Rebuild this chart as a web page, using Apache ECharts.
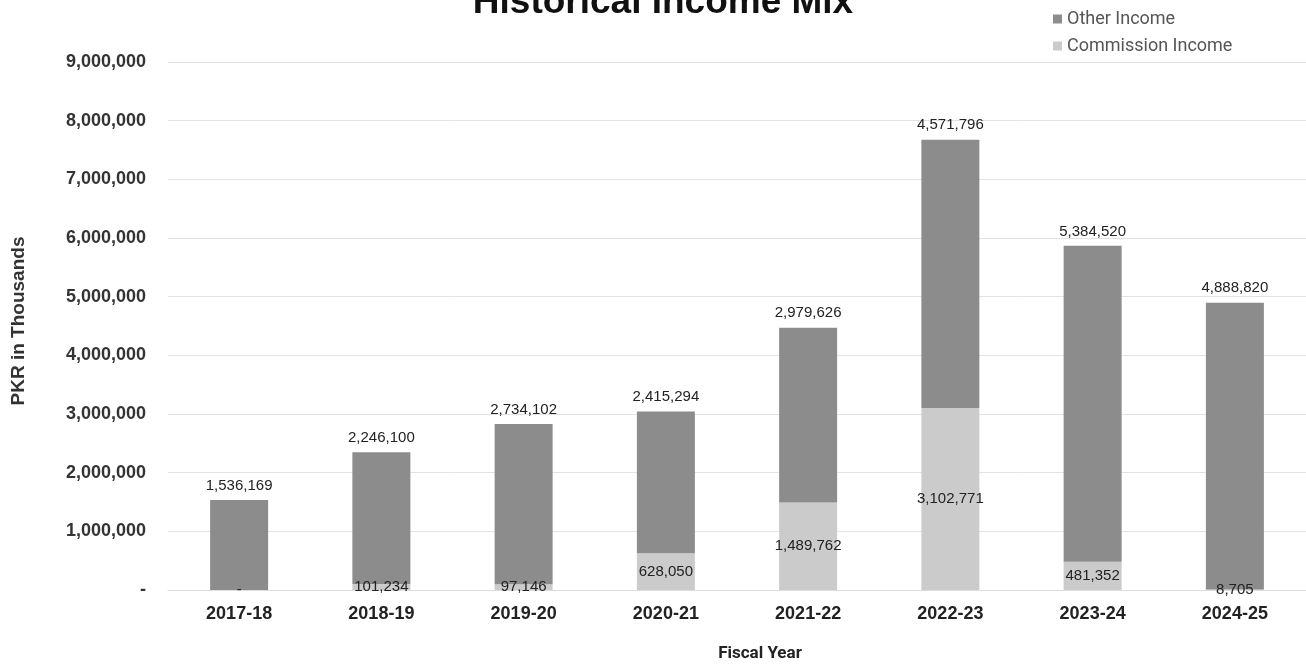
<!DOCTYPE html>
<html>
<head>
<meta charset="utf-8">
<script src="https://cdn.jsdelivr.net/npm/echarts@6/dist/echarts.min.js"></script>
<style>html,body{margin:0;padding:0;background:#fff;}#c{width:1306px;height:667px;}</style>
</head>
<body>
<div id="c"></div>
<script>
const categories = ['2017-18','2018-19','2019-20','2020-21','2021-22','2022-23','2023-24','2024-25'];
const commissionIncome = [0, 101234, 97146, 628050, 1489762, 3102771, 481352, 8705];
const otherIncome = [1536169, 2246100, 2734102, 2415294, 2979626, 4571796, 5384520, 4888820];
const yTicks = [0, 1000000, 2000000, 3000000, 4000000, 5000000, 6000000, 7000000, 8000000, 9000000];

const fmt = v => v === 0 ? '-' : v.toLocaleString('en-US');
const chart = echarts.init(document.getElementById('c'));
chart.setOption({
  backgroundColor: '#fff',
  animation: false,
  title: {
    text: 'Historical Income Mix',
    left: 658, textAlign: 'center', top: -21,
    textStyle: { fontFamily: 'Liberation Sans', fontWeight: 'bold', fontSize: 37, color: '#111' }
  },
  legend: {
    orient: 'vertical', left: 1048, top: 5, itemGap: 9,
    itemWidth: 9, itemHeight: 9, icon: 'rect',
    data: ['Other Income', 'Commission Income'],
    textStyle: { fontFamily: 'Roboto', fontSize: 18, color: '#555' }
  },
  grid: { left: 168, right: 0, top: 62, bottom: 75 },
  xAxis: {
    type: 'category', data: categories,
    name: 'Fiscal Year', nameLocation: 'middle', nameGap: 55,
    nameTextStyle: { fontFamily: 'Roboto', fontWeight: 'bold', fontSize: 17, color: '#222', padding: [0, 0, 0, 46] },
    axisLine: { lineStyle: { color: '#ddd' } },
    axisTick: { show: false },
    axisLabel: { margin: 15, fontFamily: 'Liberation Sans', fontWeight: 'bold', fontSize: 18, color: '#222' }
  },
  yAxis: {
    type: 'value', min: yTicks[0], max: yTicks[yTicks.length - 1], interval: yTicks[1] - yTicks[0],
    name: 'PKR in Thousands', nameLocation: 'middle', nameGap: 140, nameRotate: 90,
    nameTextStyle: { fontFamily: 'Liberation Sans', fontWeight: 'bold', fontSize: 19, color: '#333', padding: [0, 0, 0, 10] },
    axisLine: { show: false }, axisTick: { show: false },
    splitLine: { lineStyle: { color: '#e2e2e2' } },
    axisLabel: { margin: 22, fontFamily: 'Liberation Sans', fontWeight: 'bold', fontSize: 18, color: '#333', formatter: fmt }
  },
  series: [
    {
      name: 'Commission Income', type: 'bar', stack: 't', barWidth: 58,
      data: commissionIncome,
      itemStyle: { color: '#cbcbcb' },
      label: { show: true, position: 'inside', fontFamily: 'Liberation Sans', fontSize: 15, color: '#222', formatter: p => fmt(p.value) }
    },
    {
      name: 'Other Income', type: 'bar', stack: 't', barWidth: 58,
      data: otherIncome,
      itemStyle: { color: '#8c8c8c' },
      label: { show: true, position: 'top', distance: 7, fontFamily: 'Liberation Sans', fontSize: 15, color: '#222', formatter: p => fmt(p.value) }
    }
  ]
});
</script>
</body>
</html>
